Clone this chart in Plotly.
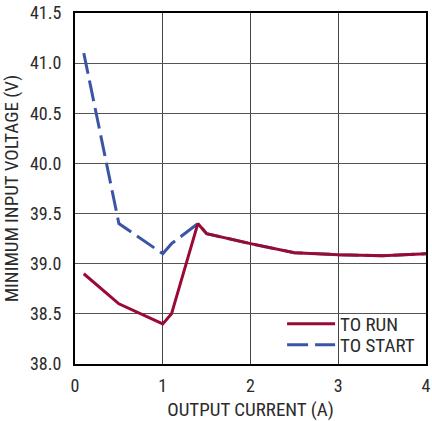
import plotly.graph_objects as go

# Output current (A) sample points
current = [0.1, 0.5, 1.0, 1.1, 1.4, 1.5, 2.0, 2.5, 3.0, 3.5, 4.0]
# Minimum input voltage (V) required to keep running
v_run = [38.9, 38.6, 38.4, 38.5, 39.4, 39.3, 39.2, 39.11, 39.09, 39.08, 39.1]
# Minimum input voltage (V) required to start
v_start = [41.1, 39.4, 39.1, 39.2, 39.4, 39.3, 39.2, 39.11, 39.09, 39.08, 39.1]

x_ticks = [0, 1, 2, 3, 4]
y_ticks = [38.0, 38.5, 39.0, 39.5, 40.0, 40.5, 41.0, 41.5]

FONT = "Liberation Sans Narrow, Roboto Condensed, Arial Narrow, Liberation Sans, sans-serif"
TEXT = "#2b2b2b"
RED = "#990a35"
BLUE = "#3a55a6"
LEGEND_FONT = dict(family=FONT, size=19, color=TEXT)

fig = go.Figure()
fig.add_trace(go.Scatter(
    x=current, y=v_start, mode="lines", name="TO START", legend="legend2",
    line=dict(color=BLUE, width=3, dash="21px,7px"),
))
fig.add_trace(go.Scatter(
    x=current, y=v_run, mode="lines", name="TO RUN", legend="legend",
    line=dict(color=RED, width=3),
))

# white panel behind the key, hiding the grid in the lower-right corner
fig.add_shape(
    type="rect", xref="paper", yref="paper",
    x0=0.578, x1=1.0, y0=0.0, y1=0.165,
    fillcolor="white", line=dict(width=0), layer="between",
)

fig.update_layout(
    width=432, height=421,
    margin=dict(l=75, r=6, t=13, b=57),
    paper_bgcolor="white", plot_bgcolor="white",
    font=dict(family=FONT, size=18, color=TEXT),
    showlegend=True,
    legend=dict(
        x=0.59, y=0.06, xanchor="left", yanchor="bottom",
        bgcolor="rgba(0,0,0,0)", borderwidth=0,
        font=LEGEND_FONT, itemwidth=48,
    ),
    legend2=dict(
        x=0.59, y=0.0, xanchor="left", yanchor="bottom",
        bgcolor="rgba(0,0,0,0)", borderwidth=0,
        font=LEGEND_FONT, itemwidth=48,
    ),
    xaxis=dict(
        range=[0, 4], tickvals=x_ticks, ticks="", automargin=False,
        showgrid=True, gridcolor="#444444", gridwidth=1,
        showline=True, linecolor="black", linewidth=2, mirror=True,
        zeroline=False, ticklabelstandoff=4,
        title=dict(text="OUTPUT CURRENT (A)", font=dict(family=FONT, size=19, color=TEXT), standoff=8),
        tickfont=dict(family=FONT, size=18, color=TEXT),
    ),
    yaxis=dict(
        range=[38.0, 41.5], tickvals=y_ticks, tickformat=".1f", ticks="", automargin=False,
        showgrid=True, gridcolor="#555555", gridwidth=1,
        showline=True, linecolor="black", linewidth=2, mirror=True,
        zeroline=False, ticklabelstandoff=8,
        title=dict(text="MINIMUM INPUT VOLTAGE (V)", font=dict(family=FONT, size=19, color=TEXT), standoff=6),
        tickfont=dict(family=FONT, size=18, color=TEXT),
    ),
)

fig.write_html("out.html")
